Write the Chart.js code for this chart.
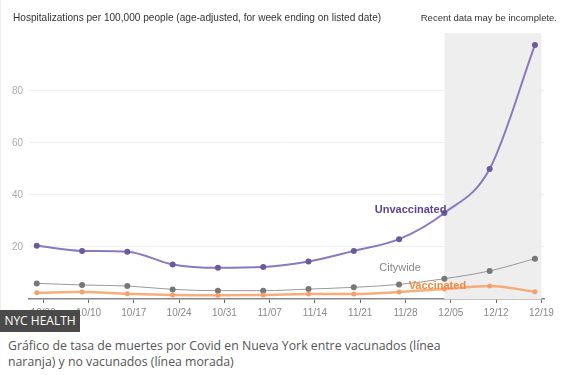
<!DOCTYPE html>
<html>
<head>
<meta charset="utf-8">
<script src="https://cdn.jsdelivr.net/npm/chart.js@4"></script>
<style>
  html, body { margin: 0; padding: 0; background: #fff; }
  #wrap { position: relative; width: 568px; height: 375px; overflow: hidden; font-family: "Liberation Sans", Arial, sans-serif; }
  #chartBox { position: absolute; left: 0; top: 0; width: 568px; height: 330px; border-left: 1px solid #eee; box-sizing: border-box; }
  .note { position: absolute; top: 12px; font-size: 9.5px; color: #333; white-space: nowrap; }
  #badge { position: absolute; left: 0; top: 310px; width: 80px; height: 22px; background: #4a4a4a; color: #fff;
           font: 12px "Open Sans", sans-serif; line-height: 22px; text-align: center; }
  #caption { position: absolute; left: 8px; top: 338px; font: 12.3px/16px "Open Sans", sans-serif; color: #555; }
</style>
</head>
<body>
<div id="wrap">
  <div id="chartBox"><canvas id="hospChart"></canvas></div>
  <div class="note" style="left:13px; font-size:10.1px">Hospitalizations per 100,000 people (age-adjusted, for week ending on listed date)</div>
  <div class="note" style="right:11px">Recent data may be incomplete.</div>
  <div id="badge">NYC HEALTH</div>
  <div id="caption">Gráfico de tasa de muertes por Covid en Nueva York entre vacunados (línea<br>naranja) y no vacunados (línea morada)</div>
</div>
<script>
// ===== 数据 =====
const tickLabels = ["10/03", "10/10", "10/17", "10/24", "10/31", "11/07", "11/14", "11/21", "11/28", "12/05", "12/12", "12/19"];
const weekEnding = ["10/02", "10/09", "10/16", "10/23", "10/30", "11/06", "11/13", "11/20", "11/27", "12/04", "12/11", "12/18"];
const unvaccinated = [20.5, 18.5, 18.2, 13.3, 12.0, 12.3, 14.4, 18.5, 23.0, 33.1, 50.0, 97.7];
const citywide     = [6.0, 5.4, 5.0, 3.7, 3.2, 3.2, 3.8, 4.5, 5.6, 7.8, 10.8, 15.5];
const vaccinated   = [2.4, 2.7, 2.0, 1.5, 1.4, 1.5, 1.9, 1.9, 2.7, 3.8, 5.0, 2.8];
const incompleteFrom = "12/04";
const incompleteTo = "12/19";

// 日期 -> 距 10/03 的天数
const dayOf = s => {
  const [m, d] = s.split("/").map(Number);
  return (Date.UTC(2021, m - 1, d) - Date.UTC(2021, 9, 3)) / 86400000;
};
const tickDays = tickLabels.map(dayOf);
const pointDays = weekEnding.map(dayOf);
const toXY = vals => vals.map((v, i) => ({ x: pointDays[i], y: v }));

// 灰色“数据可能不完整”区域
const shadePlugin = {
  id: "shade",
  beforeDatasetsDraw(chart) {
    const { ctx, chartArea, scales } = chart;
    const x0 = scales.x.getPixelForValue(dayOf(incompleteFrom));
    const x1 = scales.x.getPixelForValue(dayOf(incompleteTo));
    ctx.save();
    ctx.fillStyle = "#eeeeee";
    ctx.fillRect(x0, chartArea.top, x1 - x0, chartArea.bottom - chartArea.top);
    ctx.restore();
  }
};

// 线上的文字标签
const labelPlugin = {
  id: "lineLabels",
  afterDatasetsDraw(chart) {
    const ctx = chart.ctx;
    const pt = (ds, i) => chart.getDatasetMeta(ds).data[i];
    ctx.save();
    ctx.textBaseline = "middle";
    ctx.font = "bold 11px 'Liberation Sans', Arial, sans-serif";
    ctx.fillStyle = "#5b4391";
    ctx.textAlign = "right";
    const u = pt(2, 9);
    ctx.fillText("Unvaccinated", u.x + 2, u.y - 3);
    ctx.font = "11px 'Liberation Sans', Arial, sans-serif";
    ctx.fillStyle = "#888";
    ctx.textAlign = "center";
    const c = pt(1, 8);
    ctx.fillText("Citywide", c.x + 1, c.y - 16);
    ctx.font = "bold 11px 'Liberation Sans', Arial, sans-serif";
    ctx.fillStyle = "#f28a3e";
    const v = pt(0, 9);
    ctx.fillText("Vaccinated", v.x - 7, v.y - 3);
    ctx.restore();
  }
};

new Chart(document.getElementById("hospChart"), {
  type: "line",
  data: {
    datasets: [
      {
        label: "Vaccinated",
        data: toXY(vaccinated),
        borderColor: "rgba(247,160,100,0.85)",
        borderWidth: 2.5,
        pointRadius: 2.5,
        pointBackgroundColor: "#f5a06a",
        pointBorderWidth: 0,
        cubicInterpolationMode: "monotone"
      },
      {
        label: "Citywide",
        data: toXY(citywide),
        borderColor: "#999",
        borderWidth: 1,
        pointRadius: 3,
        pointBackgroundColor: "#777",
        pointBorderWidth: 0,
        cubicInterpolationMode: "monotone"
      },
      {
        label: "Unvaccinated",
        data: toXY(unvaccinated),
        borderColor: "#8a79bd",
        borderWidth: 2,
        pointRadius: 3,
        pointBackgroundColor: "#6c5a9c",
        pointBorderWidth: 0,
        cubicInterpolationMode: "monotone"
      }
    ]
  },
  options: {
    animation: false,
    responsive: true,
    maintainAspectRatio: false,
    layout: { padding: { top: 33, right: 24, left: 0, bottom: 0 } },
    plugins: { legend: { display: false }, tooltip: { enabled: false } },
    scales: {
      x: {
        type: "linear",
        min: -2.2,
        max: 77.4,
        afterBuildTicks: scale => { scale.ticks = tickDays.map(v => ({ value: v })); },
        afterFit: scale => { scale.height = 31; },
        ticks: {
          callback: v => tickLabels[tickDays.indexOf(v)],
          color: "#888",
          font: { family: "'Liberation Sans', Arial, sans-serif", size: 10 },
          padding: 4,
          maxRotation: 0,
          autoSkip: false
        },
        grid: { drawOnChartArea: false, drawTicks: true, tickLength: 4, color: "#666" },
        border: { color: "#888", width: 1.5 }
      },
      y: {
        min: 0,
        max: 102.3,
        afterFit: scale => { scale.width = 28; },
        ticks: {
          stepSize: 20,
          callback: v => (v > 0 && v < 100 ? v : ""),
          color: "#aaa",
          font: { family: "'Liberation Sans', Arial, sans-serif", size: 10 },
          padding: 6
        },
        grid: {
          drawTicks: false,
          color: c => (c.tick.value > 0 && c.tick.value < 100 ? "#eee" : "transparent")
        },
        border: { display: false }
      }
    }
  },
  plugins: [shadePlugin, labelPlugin]
});
</script>
</body>
</html>
